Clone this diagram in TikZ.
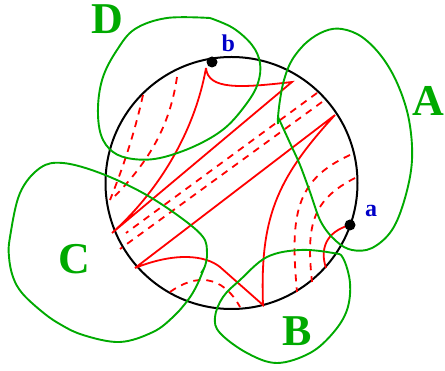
\documentclass[tikz,border=0pt]{standalone}
\usepackage{fontspec}
\setmainfont{Liberation Serif}
\usetikzlibrary{positioning}
\definecolor{loopgreen}{RGB}{0,170,0}
\definecolor{ptblue}{RGB}{0,0,200}
\tikzset{
  ring/.style={draw=black, line width=2pt},
  bound/.style={draw=loopgreen, line width=1.9pt, line join=round},
  chord/.style={draw=red, line width=1.8pt},
  ghost/.style={draw=red, line width=1.8pt, dash pattern=on 7pt off 6pt},
  spot/.style={circle, fill=black, inner sep=0pt, minimum size=11pt},
  rlbl/.style={text=loopgreen, font=\fontsize{44}{44}\selectfont\bfseries, inner sep=0pt},
  ptlbl/.style={text=ptblue, font=\fontsize{24}{24}\selectfont\bfseries, inner sep=0pt}
}

\begin{document}
\begin{tikzpicture}[x=1pt, y=-1pt]
  \useasboundingbox (0,0) rectangle (445,371);
  \coordinate (o) at (231.5,183);
  \coordinate (pb) at (212,62);
  \coordinate (pa) at (350,225);
  \coordinate (rb) at (206,68);
  \coordinate (v1) at (292,82);
  \coordinate (v2) at (335,115);
  \coordinate (j1) at (112,233);
  \coordinate (j2) at (135,268);
  \coordinate (bb) at (263,305);
  \coordinate (ae) at (326,268);

  \draw[ring] (o) circle[radius=126pt];

  \draw[chord] (rb) .. controls (195,130) and (160,190) .. (j1) -- (v1) .. controls (240,88) and (208,90) .. (rb);
  \draw[chord] (j2) -- (v2) .. controls (275,180) and (260,220) .. (bb) -- (220,267) .. controls (205,255) and (175,252) .. (j2);
  \draw[chord] (pa) .. controls (325,232) and (320,250) .. (ae);

  \draw[ghost] (143,95) .. controls (133,140) and (120,175) .. (110,200);
  \draw[ghost] (177,77) .. controls (170,125) and (150,160) .. (115,196);
  \draw[ghost] (317,93) -- (126,233);
  \draw[ghost] (322,102) -- (120,249);
  \draw[ghost] (350,155) .. controls (295,180) and (290,215) .. (297,292);
  \draw[ghost] (355,178) .. controls (312,200) and (306,225) .. (312,282);
  \draw[ghost] (170,292) .. controls (195,274) and (222,274) .. (240,307);

  \draw[bound] plot[smooth, tension=0.6] coordinates {(210,18) (233,28) (252,45) (260,63) (258,83) (247,103) (225,128) (195,146) (160,158) (133,159) (113,152) (101,135) (98,107) (103,77) (117,50) (135,29) (167,18) (210,18)};
  \draw[bound] plot[smooth, tension=0.6] coordinates {(278,124) (278,117) (280,100) (284,80) (292,60) (307,42) (325,31) (342,29) (362,37) (382,57) (398,85) (409,120) (412,160) (405,198) (392,230) (372,248) (352,250) (336,241) (321,222) (310,192) (300,165) (290,143) (278,117)};
  \draw[bound] plot[smooth, tension=0.6] coordinates {(205,266) (197,285) (188,300) (173,317) (153,332) (120,342) (83,335) (58,323) (40,310) (22,293) (13,277) (9,257) (10,237) (20,193) (40,168) (63,163) (100,173) (143,193) (180,217) (203,237) (207,253) (205,266) (201,273)};
  \draw[bound] plot[smooth cycle, tension=0.6] coordinates {(343,258) (350,283) (347,310) (333,333) (310,353) (277,363) (247,353) (220,333) (215,317) (223,297) (240,280) (267,257) (300,250) (333,253)};

  \node[spot] (dotb) at (pb) {};
  \node[spot] (dota) at (pa) {};
  \node[ptlbl, above right=10.5pt and 9.5pt of pb] (lb) {b};
  \node[ptlbl, above right=8pt and 15pt of pa] (la) {a};

  \node[rlbl] (lD) at (107,19) {D};
  \node[rlbl] (lA) at (428,101) {A};
  \node[rlbl] (lC) at (74,259) {C};
  \node[rlbl] (lB) at (297,331) {B};
\end{tikzpicture}
\end{document}
